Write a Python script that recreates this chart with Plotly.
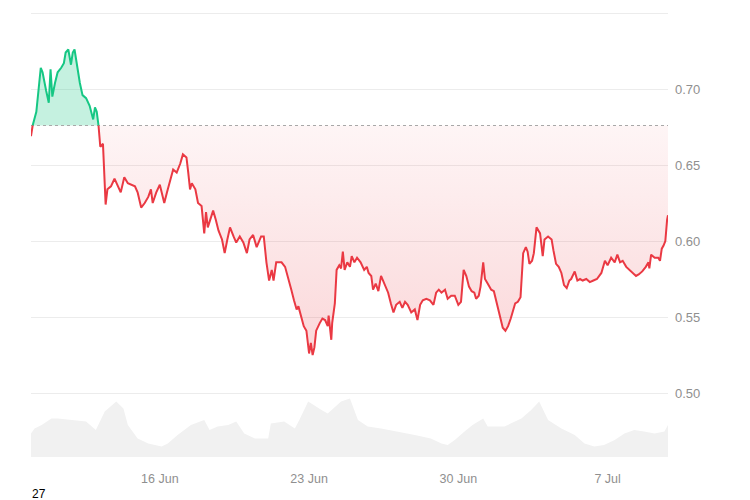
import numpy as np
import pandas as pd
import plotly.graph_objects as go

# ---- data -------------------------------------------------------------
start_time = "2024-06-09 23:00"
base_price = 0.676

price_hours = [0, 1, 4, 6, 11, 13, 17, 20, 22, 24, 27, 30, 34, 37, 39, 42, 45, 47, 49, 52,
               55, 58, 62, 66, 70, 72, 74, 76, 78, 81, 83, 84, 86, 90, 94, 98, 101, 105, 109, 117,
               120, 124, 128, 132, 135, 137, 141, 145, 147, 150, 153, 156, 160, 164, 168, 171, 175, 177, 179, 181,
               185, 188, 192, 195, 197, 199, 201, 205, 208, 211, 215, 218, 221, 224, 228, 231, 235, 239, 243, 246,
               250, 254, 259, 262, 265, 268, 271, 273, 276, 282, 286, 289, 293, 296, 299, 301, 305, 307, 310, 313,
               315, 317, 319, 321, 325, 328, 331, 334, 335, 338, 339, 342, 344, 347, 349, 351, 353, 356, 359, 361,
               364, 367, 371, 375, 378, 380, 383, 385, 388, 391, 394, 396, 399, 402, 405, 408, 411, 415, 418, 421,
               424, 428, 432, 435, 438, 441, 445, 449, 453, 456, 459, 462, 466, 469, 473, 477, 481, 484, 487, 490,
               493, 496, 499, 501, 504, 506, 509, 511, 514, 518, 521, 523, 526, 529, 531, 534, 537, 540, 543, 545,
               548, 551, 554, 557, 559, 561, 564, 566, 569, 571, 573, 576, 578, 582, 586, 588, 591, 594, 597, 600,
               603, 606, 608, 612, 615, 618, 621, 625, 629, 633, 637, 642, 646, 649, 653, 657, 660, 663, 666, 670,
               674, 678, 681, 684, 688, 692, 695, 696, 698, 702, 706, 708, 710, 712, 714, 716, 717]
price_values = [0.669, 0.674, 0.681, 0.685, 0.714, 0.711, 0.699, 0.691, 0.713, 0.695, 0.704, 0.711, 0.714, 0.717, 0.724, 0.726, 0.716, 0.724, 0.726, 0.714,
                0.704, 0.696, 0.694, 0.689, 0.680, 0.688, 0.685, 0.676, 0.662, 0.664, 0.636, 0.624, 0.634, 0.636, 0.641, 0.636, 0.632, 0.642, 0.638, 0.636,
                0.632, 0.622, 0.625, 0.629, 0.634, 0.625, 0.632, 0.637, 0.632, 0.625, 0.632, 0.638, 0.647, 0.645, 0.651, 0.657, 0.655, 0.645, 0.634, 0.638,
                0.634, 0.625, 0.623, 0.605, 0.619, 0.609, 0.613, 0.620, 0.614, 0.607, 0.601, 0.592, 0.601, 0.609, 0.603, 0.599, 0.603, 0.599, 0.592, 0.601,
                0.604, 0.596, 0.603, 0.603, 0.586, 0.574, 0.581, 0.574, 0.586, 0.586, 0.583, 0.577, 0.568, 0.561, 0.555, 0.557, 0.548, 0.544, 0.541, 0.526,
                0.533, 0.525, 0.530, 0.541, 0.546, 0.549, 0.548, 0.544, 0.551, 0.535, 0.546, 0.559, 0.581, 0.584, 0.582, 0.593, 0.581, 0.586, 0.583, 0.590,
                0.586, 0.589, 0.586, 0.581, 0.583, 0.579, 0.577, 0.568, 0.572, 0.567, 0.577, 0.574, 0.570, 0.566, 0.559, 0.553, 0.558, 0.560, 0.556, 0.560,
                0.558, 0.553, 0.555, 0.548, 0.558, 0.561, 0.562, 0.561, 0.558, 0.566, 0.568, 0.566, 0.568, 0.562, 0.564, 0.564, 0.558, 0.560, 0.581, 0.577,
                0.570, 0.567, 0.566, 0.562, 0.564, 0.570, 0.586, 0.575, 0.572, 0.568, 0.567, 0.562, 0.555, 0.548, 0.543, 0.541, 0.544, 0.549, 0.556, 0.559,
                0.560, 0.563, 0.592, 0.596, 0.593, 0.585, 0.587, 0.592, 0.609, 0.607, 0.605, 0.590, 0.601, 0.603, 0.601, 0.594, 0.585, 0.583, 0.579, 0.571,
                0.569, 0.574, 0.575, 0.580, 0.574, 0.575, 0.574, 0.575, 0.573, 0.574, 0.575, 0.579, 0.587, 0.584, 0.589, 0.586, 0.591, 0.586, 0.587, 0.583,
                0.581, 0.579, 0.577, 0.578, 0.580, 0.583, 0.586, 0.582, 0.591, 0.589, 0.589, 0.587, 0.595, 0.597, 0.600, 0.614, 0.617]

volume_hours = [0, 4, 12, 23, 30, 45, 62, 73, 83, 96, 104, 109, 120, 132, 147, 154, 165, 180, 195, 201,
                210, 222, 231, 240, 252, 267, 270, 285, 297, 302, 312, 327, 334, 349, 359, 368, 379, 394, 413, 432,
                450, 462, 469, 477, 488, 497, 509, 514, 523, 533, 552, 563, 572, 582, 597, 612, 623, 634, 645, 657,
                668, 679, 690, 702, 713, 717]
volume_values = [4.7, 5.7, 6.4, 7.7, 7.7, 7.4, 7.1, 5.4, 9.1, 11.1, 9.7, 6.4, 3.7, 2.7, 2.1, 2.7, 4.4, 6.4, 7.4, 5.4,
                 6.1, 6.4, 7.1, 4.7, 3.7, 3.7, 6.7, 7.1, 5.7, 7.4, 11.1, 9.4, 8.7, 11.1, 11.7, 7.4, 6.1, 5.7, 5.1, 4.4,
                 3.7, 2.7, 2.4, 3.4, 5.1, 6.4, 7.7, 6.1, 6.1, 6.1, 7.7, 9.4, 11.1, 7.4, 5.7, 4.4, 2.7, 2.1, 2.4, 3.4,
                 4.7, 5.4, 5.1, 4.7, 5.1, 6.4]

x_tick_dates = ["2024-06-16", "2024-06-23", "2024-06-30", "2024-07-07"]
x_tick_labels = ["16 Jun", "23 Jun", "30 Jun", "7 Jul"]
y_tick_values = [0.50, 0.55, 0.60, 0.65, 0.70, 0.75]
y_tick_labels = ["0.50", "0.55", "0.60", "0.65", "0.70", ""]

# ---- derived ----------------------------------------------------------
t0 = pd.Timestamp(start_time)
h = np.array(price_hours, dtype=float)
p = np.array(price_values, dtype=float)

ha, pa = [], []
for i in range(len(p)):
    ha.append(h[i]); pa.append(p[i])
    if i < len(p) - 1 and (p[i] - base_price) * (p[i + 1] - base_price) < 0:
        f = (base_price - p[i]) / (p[i + 1] - p[i])
        ha.append(h[i] + f * (h[i + 1] - h[i])); pa.append(base_price)
ha = np.array(ha); pa = np.array(pa)
times = t0 + pd.to_timedelta(ha, unit="h")

green_line = [v if v >= base_price else None for v in pa]
red_line = [v if v <= base_price else None for v in pa]
upper = np.maximum(pa, base_price)
lower = np.minimum(pa, base_price)
base_arr = np.full(len(pa), base_price)

vol_times = t0 + pd.to_timedelta(np.array(volume_hours, float), unit="h")

GREEN = "#16c784"
RED = "#ea3943"
TICK = "#8f8f8f"

fig = go.Figure()
# volume
fig.add_trace(go.Scatter(x=vol_times, y=volume_values, mode="lines", yaxis="y2",
                         line=dict(width=0, color="#f1f1f1"), fill="tozeroy",
                         fillcolor="#f1f1f1", hoverinfo="skip"))
# green fill
fig.add_trace(go.Scatter(x=times, y=base_arr, mode="lines", line=dict(width=0), hoverinfo="skip"))
fig.add_trace(go.Scatter(x=times, y=upper, mode="lines", line=dict(width=0), fill="tonexty",
                         fillcolor="rgba(22,199,132,0.25)", hoverinfo="skip"))
# red fill
fig.add_trace(go.Scatter(x=times, y=base_arr, mode="lines", line=dict(width=0), hoverinfo="skip"))
fig.add_trace(go.Scatter(x=times, y=lower, mode="lines", line=dict(width=0), fill="tonexty",
                         fillgradient=dict(type="vertical",
                                           colorscale=[[0, "rgba(234,57,67,0.20)"],
                                                       [1, "rgba(234,57,67,0.05)"]]),
                         hoverinfo="skip"))
# dotted baseline
fig.add_trace(go.Scatter(x=[t0, t0 + pd.Timedelta(hours=price_hours[-1])], y=[base_price, base_price],
                         mode="lines", line=dict(color="#a8a8a8", width=1, dash="dot"), hoverinfo="skip"))
# price lines
fig.add_trace(go.Scatter(x=times, y=green_line, mode="lines", line=dict(color=GREEN, width=2),
                         connectgaps=False))
fig.add_trace(go.Scatter(x=times, y=red_line, mode="lines", line=dict(color=RED, width=2),
                         connectgaps=False))

fig.update_layout(
    width=750, height=500,
    margin=dict(l=23, r=90, t=2, b=51),
    paper_bgcolor="white", plot_bgcolor="white",
    showlegend=False,
    font=dict(family="Liberation Sans, Arial, sans-serif", color=TICK),
    xaxis=dict(type="date",
               range=[t0, t0 + pd.Timedelta(hours=price_hours[-1])],
               tickvals=pd.to_datetime(x_tick_dates), ticktext=x_tick_labels,
               showgrid=False, zeroline=False, showline=False, ticks="",
               ticklabelstandoff=12, tickfont=dict(size=12.5, color=TICK)),
    yaxis=dict(side="right", range=[0.4579, 0.7520],
               tickvals=y_tick_values, ticktext=y_tick_labels,
               showgrid=True, gridcolor="#ececec", gridwidth=1,
               zeroline=False, showline=False, ticks="",
               ticklabelstandoff=6, tickfont=dict(size=13, color=TICK)),
    yaxis2=dict(overlaying="y", range=[0, 89.4], visible=False),
    annotations=[dict(text="27", xref="paper", yref="paper", x=0, y=-0.083,
                      xanchor="left", yanchor="middle", showarrow=False, xshift=-1,
                      font=dict(size=12, color="black", family="Liberation Sans, Arial"))],
)

fig.write_html("out.html")
